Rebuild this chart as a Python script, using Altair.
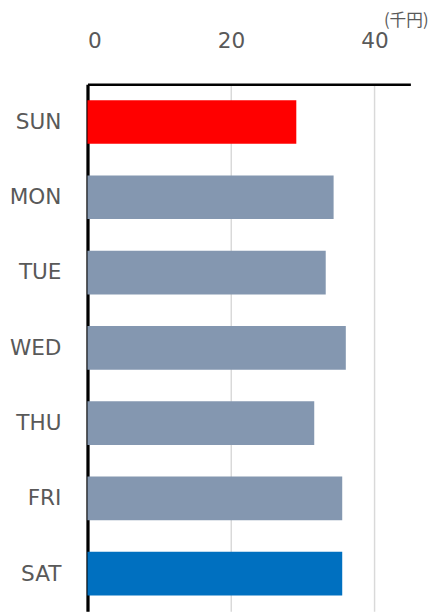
import altair as alt
import pandas as pd

days = ["SUN", "MON", "TUE", "WED", "THU", "FRI", "SAT"]
values = [29.1, 34.3, 33.2, 36.0, 31.6, 35.5, 35.5]
colors = ["#FF0000", "#8497B0", "#8497B0", "#8497B0", "#8497B0", "#8497B0", "#0070C0"]

df = pd.DataFrame({"day": days, "value": values, "color": colors})

font = "DejaVu Sans"

chart = alt.Chart(df).mark_bar().encode(
    x=alt.X(
        "value:Q",
        scale=alt.Scale(domain=[0, 45], nice=False),
        axis=alt.Axis(
            orient="top",
            values=[0, 20, 40],
            title="(千円)",
            titleFont="Noto Sans CJK JP",
            titleFontSize=17,
            titleFontWeight="normal",
            titleColor="#595959",
            titleX=347,
            titleY=-65,
            titleAlign="right",
            titleBaseline="middle",
            titleAngle=0,
            labelFont=font,
            labelFontSize=22,
            labelColor="#595959",
            labelPadding=33,
            ticks=False,
            tickSize=0,
            domainColor="#000000",
            domainWidth=2.5,
            grid=True,
            gridColor="#D9D9D9",
            gridWidth=1.5,
        ),
    ),
    y=alt.Y(
        "day:N",
        sort=days,
        scale=alt.Scale(paddingInner=0.42, paddingOuter=0.21),
        axis=alt.Axis(
            title=None,
            labelFont=font,
            labelFontSize=22,
            labelColor="#595959",
            labelPadding=27,
            ticks=False,
            tickSize=0,
            domainColor="#000000",
            domainWidth=3.3,
            grid=False,
        ),
    ),
    color=alt.Color("color:N", scale=None),
).properties(
    width=329,
    height=537,
    autosize=alt.AutoSizeParams(type="none"),
    padding={"left": 81, "top": 72, "right": 21, "bottom": 0},
).configure_view(stroke=None)

chart.save("out.html", embed_options={"renderer": "svg", "actions": False})
